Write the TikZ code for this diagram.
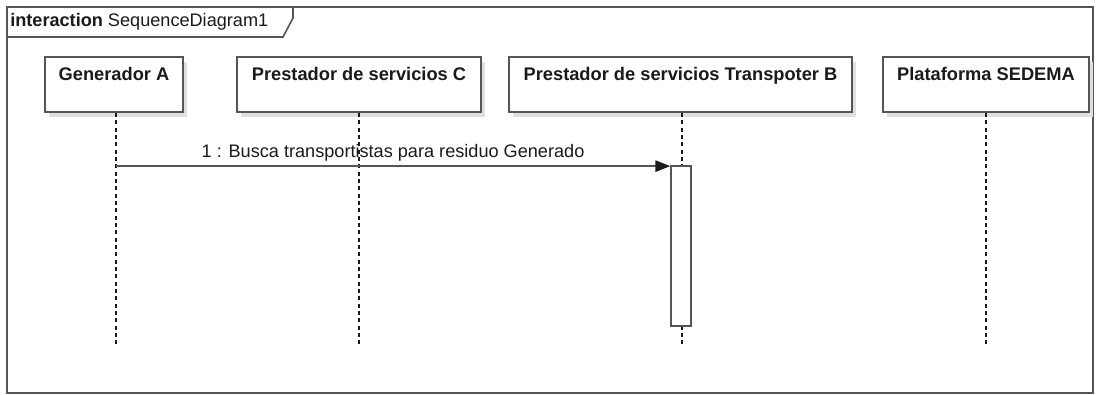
\documentclass[tikz,border=0pt]{standalone}
\usepackage{fontspec}
\setmainfont{Liberation Sans}
\usetikzlibrary{arrows.meta, positioning, calc, shadows}
\definecolor{linegray}{HTML}{555555}
\definecolor{textgray}{HTML}{1A1A1A}

\begin{document}
\begin{tikzpicture}[x=0.75pt, y=-0.75pt, >=Triangle, every node/.style={font=\fontsize{13.6}{15}\selectfont, text=textgray}]
    \tikzstyle{lifehead}=[rectangle, draw=linegray, line width=1.3pt, fill=white, minimum height=41.25pt, inner sep=0pt, drop shadow={shadow xshift=3pt, shadow yshift=-3.5pt, fill=black!12, opacity=1}]
    \tikzstyle{headtext}=[anchor=north, inner sep=0pt, yshift=-8.5pt, font=\fontsize{13.7}{15}\selectfont\bfseries]
    \tikzstyle{lifeline}=[draw=textgray, line width=1pt, dash pattern=on 3pt off 2.5pt]
    \tikzstyle{activation}=[rectangle, draw=linegray, line width=1.3pt, fill=white, minimum width=15pt, minimum height=120pt, inner sep=0pt]
    \tikzstyle{message}=[-{Triangle[length=11pt, width=8.5pt, color=textgray]}, draw=linegray, line width=1.1pt]

    \useasboundingbox (0,0) rectangle (1097,395);

    % frame
    \draw[linegray, line width=1.2pt] (7,7) rectangle (1093,393);
    \draw[linegray, line width=1.2pt] (7,37) -- (283,37) -- (293,18) -- (293,7);
    \node[anchor=west, inner sep=0pt] (frametitle) at (10,22) {\textbf{interaction} SequenceDiagram1};

    % lifeline heads
    \node[lifehead, minimum width=103.5pt, label={[headtext]north:Generador A}] (genA) at (114,84.5) {};
    \node[lifehead, minimum width=183pt, label={[headtext]north:Prestador de servicios C}] (presC) at (359,84.5) {};
    \node[lifehead, minimum width=257.25pt, label={[headtext]north:Prestador de servicios Transpoter B}] (transB) at (680.5,84.5) {};
    \node[lifehead, minimum width=154.5pt, label={[headtext]north:Plataforma SEDEMA}] (sedema) at (986,84.5) {};

    % lifelines
    \coordinate (genAend) at (116,345);
    \coordinate (presCend) at (359,345);
    \coordinate (transBend) at (682,345);
    \coordinate (sedemaend) at (986,345);
    \draw[lifeline] (genA.south -| genAend) -- (genAend);
    \draw[lifeline] (presC.south) -- (presCend);
    \draw[lifeline] (transB.south -| transBend) -- (transBend);
    \draw[lifeline] (sedema.south) -- (sedemaend);

    % activation
    \node[activation] (actB) at (681,246) {};

    % message
    \draw[message] ($(actB.north west -| genAend)+(0,1)$) -- node[midway, above, inner sep=3pt] (msg1) {1 : Busca transportistas para residuo Generado} ($(actB.north west)+(0,1)$);
\end{tikzpicture}
\end{document}
